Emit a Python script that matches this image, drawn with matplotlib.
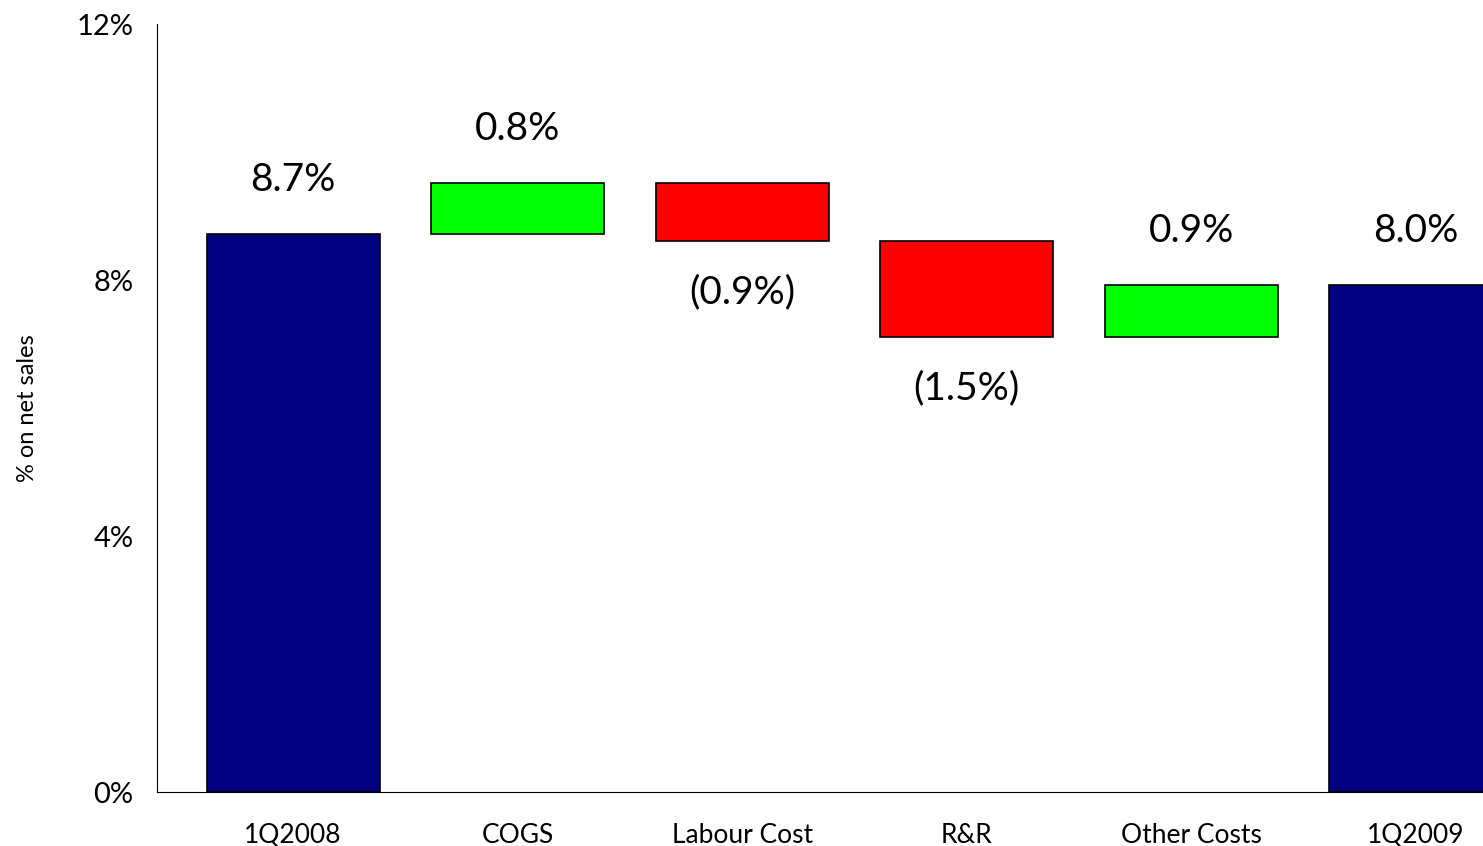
import numpy as np
import matplotlib.pyplot as plt

plt.rcParams['font.family'] = ['Lato', 'DejaVu Sans']

# Data
categories = ['1Q2008', 'COGS', 'Labour Cost', 'R&R', 'Other Costs', '1Q2009']
start_value = 8.72
deltas = [0.80, -0.91, -1.50, 0.81]
end_value = 7.92
value_labels = ['8.7%', '0.8%', '(0.9%)', '(1.5%)', '0.9%', '8.0%']

# Build waterfall
bottoms = [0]
heights = [start_value]
colors = ['#000080']
level = start_value
for d in deltas:
    if d >= 0:
        bottoms.append(level)
        heights.append(d)
        colors.append('#00FF00')
    else:
        bottoms.append(level + d)
        heights.append(-d)
        colors.append('#FF0000')
    level += d
bottoms.append(0)
heights.append(end_value)
colors.append('#000080')
signs = [1] + [1 if d >= 0 else -1 for d in deltas] + [1]

fig = plt.figure(figsize=(14.83, 8.46), dpi=100)
ax = fig.add_axes([0.1059, 0.0638, 0.8941, 0.9078])

x = np.arange(len(categories))
ax.bar(x, heights, bottom=bottoms, width=0.77, color=colors,
       edgecolor='black', linewidth=1.2)

for i in range(len(categories)):
    if signs[i] > 0:
        y = bottoms[i] + heights[i] + 0.84
    else:
        y = bottoms[i] - 0.8
    ax.text(x[i], y, value_labels[i], ha='center', va='center', fontsize=28)

ax.set_xlim(-0.606, 5.30)
ax.set_ylim(0, 12)
ax.set_yticks([0, 4, 8, 12])
ax.set_yticklabels(['0%', '4%', '8%', '12%'], fontsize=21)
ax.set_xticks(x)
ax.set_xticklabels(categories, fontsize=19)
ax.tick_params(axis='y', length=0, pad=17)
ax.tick_params(axis='x', length=0, pad=22)
ax.set_ylabel('% on net sales', fontsize=17)
ax.yaxis.set_label_coords(-0.090, 0.5)

ax.spines['top'].set_visible(False)
ax.spines['right'].set_visible(False)

plt.savefig('out.png', dpi=100)
